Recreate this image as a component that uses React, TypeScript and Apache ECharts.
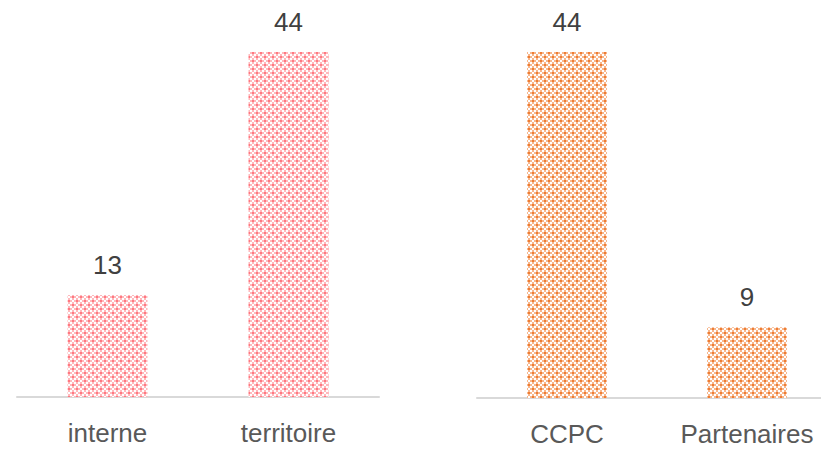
import React, { useEffect, useRef } from "react";
import * as echarts from "echarts";

const leftCategories = ["interne", "territoire"];
const leftValues = [13, 44];
const rightCategories = ["CCPC", "Partenaires"];
const rightValues = [44, 9];

// 4x4 grid of 2x2-pixel cells: D = dark, L = light, . = white
const CELLS = [
  "DL.L",
  "L.L.",
  ".LDL",
  "L.L.",
];

function makeTile(dark: string, light: string): HTMLCanvasElement {
  const c = document.createElement("canvas");
  c.width = 8;
  c.height = 8;
  const ctx = c.getContext("2d")!;
  ctx.fillStyle = "#ffffff";
  ctx.fillRect(0, 0, 8, 8);
  for (let y = 0; y < 4; y++) {
    for (let x = 0; x < 4; x++) {
      const ch = CELLS[y][x];
      if (ch === "D") {
        ctx.fillStyle = dark;
        ctx.fillRect(x * 2, y * 2, 2, 2);
      } else if (ch === "L") {
        ctx.fillStyle = light;
        ctx.fillRect(x * 2, y * 2, 2, 2);
      }
    }
  }
  return c;
}

export default function App() {
  const ref = useRef<HTMLDivElement>(null);
  useEffect(() => {
    if (!ref.current) return;
    const chart = echarts.init(ref.current, undefined, { renderer: "svg" });
    const pink = makeTile("#ff7880", "#ffb8bc");
    const orange = makeTile("#ee7d33", "#f7b68c");
    const font = "'Liberation Sans', Arial, sans-serif";
    const labelStyle = {
      show: true,
      position: "top" as const,
      distance: 17,
      fontSize: 26,
      lineHeight: 26,
      color: "#404040",
      fontFamily: font,
    };
    const axisCommon = {
      type: "category" as const,
      axisLine: { lineStyle: { color: "#d9d9d9", width: 2 } },
      axisTick: { show: false },
      axisLabel: {
        margin: 23,
        fontSize: 26,
        lineHeight: 26,
        color: "#595959",
        fontFamily: font,
      },
    };
    const yCommon = {
      type: "value" as const,
      min: 0,
      max: 44,
      show: false,
      splitLine: { show: false },
    };
    chart.setOption({
      animation: false,
      grid: [
        { left: 17, width: 362, top: 52, bottom: 52 },
        { left: 477, width: 360, top: 52, bottom: 51 },
      ],
      xAxis: [
        { ...axisCommon, gridIndex: 0, data: leftCategories },
        { ...axisCommon, gridIndex: 1, data: rightCategories },
      ],
      yAxis: [
        { ...yCommon, gridIndex: 0 },
        { ...yCommon, gridIndex: 1 },
      ],
      series: [
        {
          type: "bar",
          xAxisIndex: 0,
          yAxisIndex: 0,
          data: leftValues,
          barWidth: 80,
          itemStyle: { color: { image: pink, repeat: "repeat" } },
          label: labelStyle,
        },
        {
          type: "bar",
          xAxisIndex: 1,
          yAxisIndex: 1,
          data: rightValues,
          barWidth: 80,
          itemStyle: { color: { image: orange, repeat: "repeat" } },
          label: labelStyle,
        },
      ],
    });
    return () => chart.dispose();
  }, []);
  return (
    <div style={{ position: "absolute", left: 0, top: 0, width: 821, height: 449, overflow: "hidden" }}>
      <div ref={ref} style={{ width: 860, height: 449 }} />
    </div>
  );
}
